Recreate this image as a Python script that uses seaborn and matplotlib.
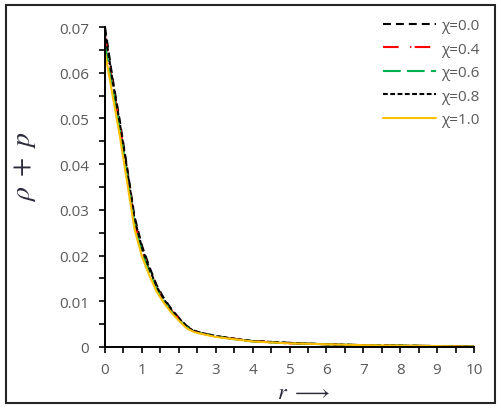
import numpy as np
import pandas as pd
import seaborn as sns
import matplotlib
matplotlib.use("Agg")
import matplotlib.pyplot as plt
from matplotlib.patches import Rectangle
from matplotlib.ticker import MultipleLocator, FuncFormatter

# ---- data ----
r = [0, 0.2, 0.4, 0.6, 0.8, 1.0, 1.2, 1.4, 1.6, 1.8, 2.0, 2.2, 2.4, 2.6,
     3.0, 3.5, 4.0, 5.0, 6.0, 7.0, 8.0, 9.0, 10.0]
chi_00 = [0.0700, 0.0590, 0.0495, 0.0392, 0.0285, 0.0222, 0.0176, 0.0135, 0.0106,
          0.0083, 0.0064, 0.0047, 0.0036, 0.0031, 0.0024, 0.0018, 0.0013, 0.0009,
          0.0006, 0.0004, 0.0003, 0.0002, 0.0001]
chi_04 = [0.0680, 0.0578, 0.0485, 0.0382, 0.0274, 0.0212, 0.0168, 0.0129, 0.0102,
          0.0080, 0.0062, 0.0045, 0.0035, 0.0030, 0.0023, 0.0018, 0.0013, 0.0008,
          0.0006, 0.0004, 0.0003, 0.0002, 0.0001]
chi_06 = [0.0662, 0.0570, 0.0478, 0.0378, 0.0270, 0.0208, 0.0165, 0.0127, 0.0100,
          0.0078, 0.0060, 0.0044, 0.0034, 0.0030, 0.0023, 0.0017, 0.0012, 0.0008,
          0.0006, 0.0004, 0.0003, 0.0002, 0.0001]
chi_08 = [0.0690, 0.0585, 0.0490, 0.0388, 0.0280, 0.0218, 0.0172, 0.0132, 0.0104,
          0.0081, 0.0063, 0.0046, 0.0035, 0.0031, 0.0024, 0.0018, 0.0013, 0.0009,
          0.0006, 0.0004, 0.0003, 0.0002, 0.0001]
chi_10 = [0.0645, 0.0553, 0.0462, 0.0360, 0.0258, 0.0198, 0.0157, 0.0121, 0.0096,
          0.0075, 0.0058, 0.0042, 0.0033, 0.0029, 0.0022, 0.0017, 0.0012, 0.0008,
          0.0006, 0.0004, 0.0003, 0.0002, 0.0001]
labels = ["χ=0.0", "χ=0.4", "χ=0.6", "χ=0.8", "χ=1.0"]
series = [chi_00, chi_04, chi_06, chi_08, chi_10]
x_ticks = list(range(0, 11))
y_ticks = [0, 0.01, 0.02, 0.03, 0.04, 0.05, 0.06, 0.07]

df = pd.concat([pd.DataFrame({"r": r, "v": s, "chi": lab}) for lab, s in zip(labels, series)],
               ignore_index=True)

sns.set_theme(style="white")
plt.rcParams["font.family"] = ["Open Sans", "DejaVu Sans"]
plt.rcParams["mathtext.fontset"] = "stix"

fig = plt.figure(figsize=(5.02, 4.14), dpi=100)
ax = fig.add_axes([105 / 502, 66 / 414, 369 / 502, 320 / 414])

palette = {"χ=0.0": "black", "χ=0.4": "#FF0000", "χ=0.6": "#00B050",
           "χ=0.8": "black", "χ=1.0": "#FFC000"}
dashes = {"χ=0.0": (3.8, 2.4), "χ=0.4": (7.5, 5.5, 0.6, 1.6), "χ=0.6": (8.5, 3.0),
          "χ=0.8": (2.3, 1.2), "χ=1.0": ""}

sns.lineplot(data=df, x="r", y="v", hue="chi", style="chi", palette=palette,
             dashes=dashes, hue_order=labels, style_order=labels,
             linewidth=1.5, ax=ax, legend=True)

ax.set_xlim(0, 10)
ax.set_ylim(0, 0.07)
ax.set_xticks(x_ticks)
ax.set_yticks(y_ticks)
ax.xaxis.set_minor_locator(MultipleLocator(0.5))
ax.yaxis.set_minor_locator(MultipleLocator(0.005))
ax.yaxis.set_major_formatter(FuncFormatter(lambda v, p: "0" if v == 0 else f"{v:.2f}"))
ax.tick_params(which="both", direction="out", length=4.5, width=1.2, color="black",
               bottom=True, left=True, labelsize=11, labelcolor="#595959")
ax.tick_params(axis="y", which="major", pad=7)
ax.tick_params(axis="x", which="major", pad=6)
for side in ["top", "right"]:
    ax.spines[side].set_visible(False)
for side in ["left", "bottom"]:
    ax.spines[side].set_color("black")
    ax.spines[side].set_linewidth(1.4)

ax.set_xlabel(r"$r\ \longrightarrow$", fontsize=16, color="#2a2a3a")
ax.set_ylabel(r"$\rho\ +\ p$", fontsize=20, color="#2a2a3a")
ax.xaxis.set_label_coords(0.538, -0.11)
ax.yaxis.set_label_coords(-0.182, 0.567)

leg = ax.legend(loc="upper right", bbox_to_anchor=(1.016, 1.028), frameon=False,
                fontsize=11, handlelength=3.5, handletextpad=0.35, labelspacing=0.56,
                borderpad=0, borderaxespad=0)
for t in leg.get_texts():
    t.set_color("#595959")
for h in leg.get_lines():
    h.set_linewidth(1.5)

fig.patches.append(Rectangle((5.5 / 502, 10 / 414), 489.5 / 502, 398.5 / 414,
                             transform=fig.transFigure, fill=False,
                             edgecolor="#262626", linewidth=1.5))

fig.savefig("out.png", dpi=100)
